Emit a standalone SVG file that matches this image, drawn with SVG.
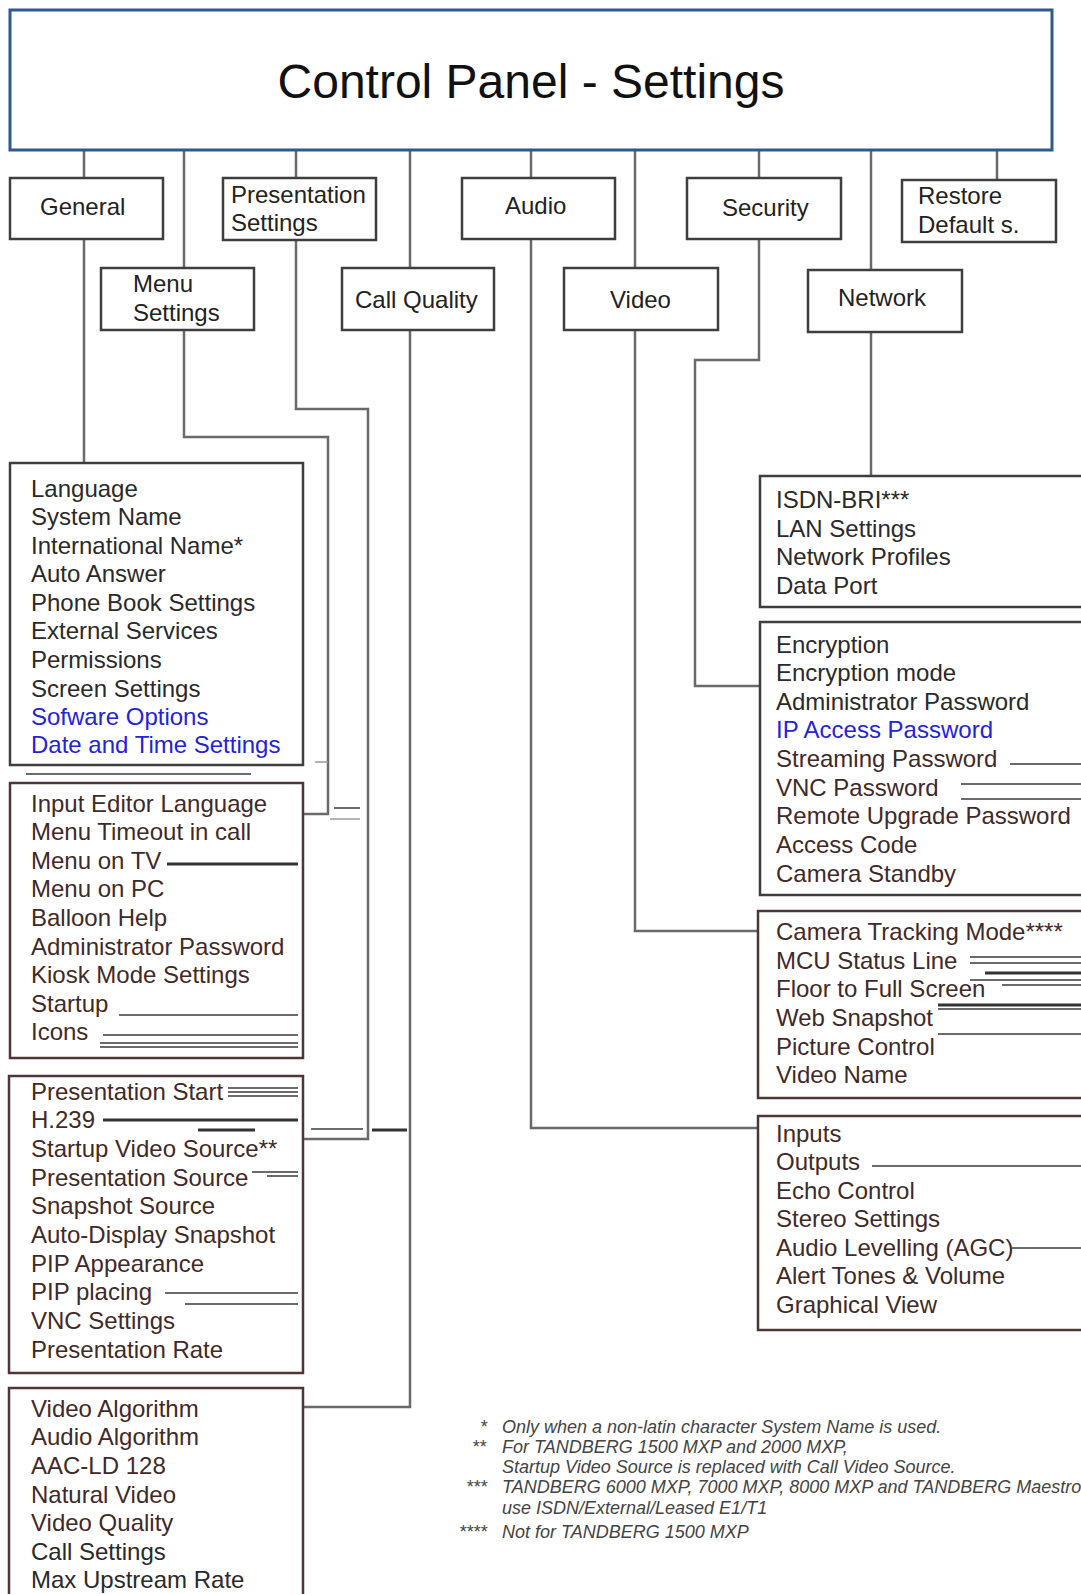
<svg xmlns="http://www.w3.org/2000/svg" width="1081" height="1594" viewBox="0 0 1081 1594">
<style>
  text { font-family: "Liberation Sans", Arial, sans-serif; fill: #222; }
  .title { font-size: 48px; fill: #111; }
  .lbl { font-size: 24px; fill: #222; }
  .item { font-size: 24px; fill: #2a2a2a; }
  .rev { fill: #3f2a2a; }
  .blue { fill: #2323d8; }
  .note { font-size: 18px; font-style: italic; fill: #444; }
  .box { fill: #fff; stroke: #3e3e3e; stroke-width: 2.5; }
  .rbox { fill: #fff; stroke: #4d3636; stroke-width: 2.5; }
  .conn { fill: none; stroke: #6a6a6a; stroke-width: 2.5; }
  .art { stroke: #3a3a3a; stroke-width: 1.5; }
  .artb { stroke: #333; stroke-width: 3; }
  .artl { stroke: #9a9a9a; stroke-width: 1.5; }
</style>
<rect width="1081" height="1594" fill="#fff"/>

<g id="connectors">
  <path class="conn" d="M84 150 V178 M84 239 V463"/>
  <path class="conn" d="M184 150 V268 M184 330 V437 H328 V814 H303"/>
  <path class="conn" d="M296 150 V178 M296 240 V409 H368 V1139 H303"/>
  <path class="conn" d="M410 150 V268 M410 330 V1407 H303"/>
  <path class="conn" d="M531 150 V178 M531 239 V1128 H758"/>
  <path class="conn" d="M635 150 V268 M635 330 V931 H758"/>
  <path class="conn" d="M759 150 V178 M759 239 V360 H695 V686 H760"/>
  <path class="conn" d="M871 150 V270 M871 332 V476"/>
  <path class="conn" d="M997 150 V180"/>
</g>

<g id="title">
  <rect x="10" y="10" width="1042" height="140" fill="#fff" stroke="#2e5b8c" stroke-width="3"/>
  <text class="title" x="531" y="98" text-anchor="middle">Control Panel - Settings</text>
</g>

<g id="general">
  <rect class="box" x="10" y="178" width="153" height="61"/>
  <text class="lbl" x="40" y="215">General</text>
</g>
<g id="presentation">
  <rect class="box" x="223" y="178" width="153" height="62"/>
  <text class="lbl" x="231" y="203">Presentation</text>
  <text class="lbl" x="231" y="231">Settings</text>
</g>
<g id="audio">
  <rect class="box" x="462" y="178" width="153" height="61"/>
  <text class="lbl" x="505" y="214">Audio</text>
</g>
<g id="security">
  <rect class="box" x="687" y="178" width="154" height="61"/>
  <text class="lbl" x="722" y="216">Security</text>
</g>
<g id="restore">
  <rect class="box" x="902" y="180" width="154" height="62"/>
  <text class="lbl" x="918" y="204">Restore</text>
  <text class="lbl" x="918" y="233">Default s.</text>
</g>
<g id="menu">
  <rect class="box" x="101" y="268" width="153" height="62"/>
  <text class="lbl" x="133" y="292">Menu</text>
  <text class="lbl" x="133" y="321">Settings</text>
</g>
<g id="callquality">
  <rect class="box" x="342" y="268" width="152" height="62"/>
  <text class="lbl" x="355" y="308">Call Quality</text>
</g>
<g id="video">
  <rect class="box" x="564" y="268" width="154" height="62"/>
  <text class="lbl" x="610" y="308">Video</text>
</g>
<g id="network">
  <rect class="box" x="808" y="270" width="154" height="62"/>
  <text class="lbl" x="838" y="306">Network</text>
</g>

<g id="general-list">
  <rect class="box" x="10" y="463" width="293" height="302"/>
  <text class="item" x="31" y="497">Language</text>
  <text class="item" x="31" y="525">System Name</text>
  <text class="item" x="31" y="554">International Name*</text>
  <text class="item" x="31" y="582">Auto Answer</text>
  <text class="item" x="31" y="611">Phone Book Settings</text>
  <text class="item" x="31" y="639">External Services</text>
  <text class="item" x="31" y="668">Permissions</text>
  <text class="item" x="31" y="697">Screen Settings</text>
  <text class="item blue" x="31" y="725">Sofware Options</text>
  <text class="item blue" x="31" y="753">Date and Time Settings</text>
</g>

<g id="menu-list">
  <rect class="rbox" x="10" y="783" width="293" height="275"/>
  <text class="item rev" x="31" y="812">Input Editor Language</text>
  <text class="item rev" x="31" y="840">Menu Timeout in call</text>
  <text class="item rev" x="31" y="869">Menu on TV</text>
  <text class="item rev" x="31" y="897">Menu on PC</text>
  <text class="item rev" x="31" y="926">Balloon Help</text>
  <text class="item rev" x="31" y="955">Administrator Password</text>
  <text class="item rev" x="31" y="983">Kiosk Mode Settings</text>
  <text class="item rev" x="31" y="1012">Startup</text>
  <text class="item rev" x="31" y="1040">Icons</text>
</g>

<g id="presentation-list">
  <rect class="rbox" x="9" y="1076" width="294" height="297"/>
  <text class="item rev" x="31" y="1100">Presentation Start</text>
  <text class="item rev" x="31" y="1128">H.239</text>
  <text class="item rev" x="31" y="1157">Startup Video Source**</text>
  <text class="item rev" x="31" y="1186">Presentation Source</text>
  <text class="item rev" x="31" y="1214">Snapshot Source</text>
  <text class="item rev" x="31" y="1243">Auto-Display Snapshot</text>
  <text class="item rev" x="31" y="1272">PIP Appearance</text>
  <text class="item rev" x="31" y="1300">PIP placing</text>
  <text class="item rev" x="31" y="1329">VNC Settings</text>
  <text class="item rev" x="31" y="1358">Presentation Rate</text>
</g>

<g id="callquality-list">
  <rect class="rbox" x="9" y="1388" width="294" height="230"/>
  <text class="item rev" x="31" y="1417">Video Algorithm</text>
  <text class="item rev" x="31" y="1445">Audio Algorithm</text>
  <text class="item rev" x="31" y="1474">AAC-LD 128</text>
  <text class="item rev" x="31" y="1503">Natural Video</text>
  <text class="item rev" x="31" y="1531">Video Quality</text>
  <text class="item" x="31" y="1560">Call Settings</text>
  <text class="item" x="31" y="1588">Max Upstream Rate</text>
</g>

<g id="network-list">
  <rect class="box" x="760" y="476" width="340" height="131"/>
  <text class="item" x="776" y="508">ISDN-BRI***</text>
  <text class="item" x="776" y="537">LAN Settings</text>
  <text class="item" x="776" y="565">Network Profiles</text>
  <text class="item" x="776" y="594">Data Port</text>
</g>

<g id="security-list">
  <rect class="box" x="760" y="622" width="340" height="273"/>
  <text class="item" x="776" y="653">Encryption</text>
  <text class="item" x="776" y="681">Encryption mode</text>
  <text class="item" x="776" y="710">Administrator Password</text>
  <text class="item blue" x="776" y="738">IP Access Password</text>
  <text class="item rev" x="776" y="767">Streaming Password</text>
  <text class="item rev" x="776" y="796">VNC Password</text>
  <text class="item rev" x="776" y="824">Remote Upgrade Password</text>
  <text class="item rev" x="776" y="853">Access Code</text>
  <text class="item rev" x="776" y="882">Camera Standby</text>
</g>

<g id="video-list">
  <rect class="rbox" x="758" y="911" width="340" height="187"/>
  <text class="item rev" x="776" y="940">Camera Tracking Mode****</text>
  <text class="item rev" x="776" y="969">MCU Status Line</text>
  <text class="item rev" x="776" y="997">Floor to Full Screen</text>
  <text class="item rev" x="776" y="1026">Web Snapshot</text>
  <text class="item rev" x="776" y="1055">Picture Control</text>
  <text class="item rev" x="776" y="1083">Video Name</text>
</g>

<g id="audio-list">
  <rect class="rbox" x="758" y="1116" width="340" height="214"/>
  <text class="item rev" x="776" y="1142">Inputs</text>
  <text class="item rev" x="776" y="1170">Outputs</text>
  <text class="item rev" x="776" y="1199">Echo Control</text>
  <text class="item rev" x="776" y="1227">Stereo Settings</text>
  <text class="item rev" x="776" y="1256">Audio Levelling (AGC)</text>
  <text class="item rev" x="776" y="1284">Alert Tones &amp; Volume</text>
  <text class="item rev" x="776" y="1313">Graphical View</text>
</g>

<g id="artifacts">
  <line class="art" x1="26" y1="774" x2="251" y2="774"/>
  <line class="artl" x1="315" y1="762" x2="328" y2="762"/>
  <line class="art" x1="334" y1="808" x2="360" y2="808"/>
  <line class="artl" x1="330" y1="819" x2="360" y2="819"/>
  <line class="artb" x1="167" y1="864" x2="298" y2="864"/>
  <line class="art" x1="119" y1="1015" x2="298" y2="1015"/>
  <line class="art" x1="103" y1="1035" x2="298" y2="1035"/>
  <line class="art" x1="100" y1="1043" x2="298" y2="1043"/>
  <line class="art" x1="100" y1="1047" x2="298" y2="1047"/>
  <line class="art" x1="228" y1="1088" x2="298" y2="1088"/>
  <line class="art" x1="228" y1="1092" x2="298" y2="1092"/>
  <line class="art" x1="228" y1="1096" x2="298" y2="1096"/>
  <line class="artb" x1="103" y1="1120" x2="298" y2="1120"/>
  <line class="artb" x1="198" y1="1130" x2="255" y2="1130"/>
  <line class="art" x1="311" y1="1129" x2="363" y2="1129"/>
  <line class="artb" x1="372" y1="1130" x2="407" y2="1130"/>
  <line class="art" x1="252" y1="1172" x2="298" y2="1172"/>
  <line class="art" x1="267" y1="1176" x2="298" y2="1176"/>
  <line class="art" x1="165" y1="1293" x2="298" y2="1293"/>
  <line class="art" x1="185" y1="1304" x2="298" y2="1304"/>
  <line class="art" x1="1010" y1="764" x2="1081" y2="764"/>
  <line class="art" x1="961" y1="784" x2="1081" y2="784"/>
  <line class="art" x1="961" y1="799" x2="1081" y2="799"/>
  <line class="art" x1="970" y1="957" x2="1081" y2="957"/>
  <line class="art" x1="970" y1="963" x2="1081" y2="963"/>
  <line class="artb" x1="985" y1="973" x2="1081" y2="973"/>
  <line class="art" x1="970" y1="980" x2="1081" y2="980"/>
  <line class="art" x1="1002" y1="985" x2="1081" y2="985"/>
  <line class="artb" x1="938" y1="1005" x2="1081" y2="1005"/>
  <line class="art" x1="938" y1="1009" x2="1081" y2="1009"/>
  <line class="art" x1="938" y1="1034" x2="1081" y2="1034"/>
  <line class="art" x1="872" y1="1166" x2="1081" y2="1166"/>
  <line class="art" x1="1012" y1="1248" x2="1081" y2="1248"/>
</g>

<g id="footnotes">
  <text class="note" x="480" y="1433">*</text>
  <text class="note" x="502" y="1433">Only when a non-latin character System Name is used.</text>
  <text class="note" x="472" y="1453">**</text>
  <text class="note" x="502" y="1453">For TANDBERG 1500 MXP and 2000 MXP,</text>
  <text class="note" x="502" y="1473">Startup Video Source is replaced with Call Video Source.</text>
  <text class="note" x="466" y="1493">***</text>
  <text class="note" x="502" y="1493">TANDBERG 6000 MXP, 7000 MXP, 8000 MXP and TANDBERG Maestro</text>
  <text class="note" x="502" y="1514">use ISDN/External/Leased E1/T1</text>
  <text class="note" x="459" y="1538">****</text>
  <text class="note" x="502" y="1538">Not for TANDBERG 1500 MXP</text>
</g>
</svg>
